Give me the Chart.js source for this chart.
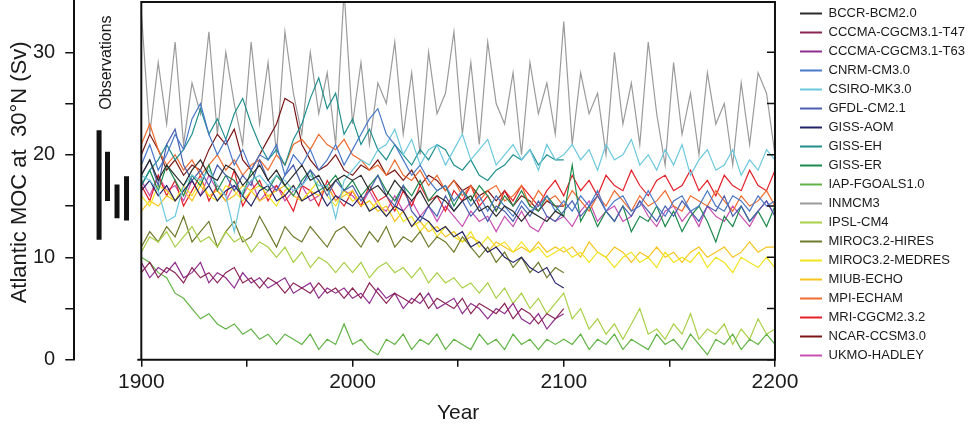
<!DOCTYPE html>
<html>
<head>
<meta charset="utf-8">
<script src="https://cdn.jsdelivr.net/npm/chart.js@4/dist/chart.umd.min.js"></script>
<style>
  html, body { margin: 0; padding: 0; background: #fff; }
</style>
</head>
<body>
<canvas id="mocChart" width="975" height="428"></canvas>
<script>
// years sampled every 4 years
const years = [];
for (let y = 1900; y <= 2200; y += 4) years.push(y);

const xTickYears = [1900, 1950, 2000, 2050, 2100, 2150, 2200];
const yTickValues = [0, 5, 10, 15, 20, 25, 30];

const modelNames = ['BCCR-BCM2.0', 'CCCMA-CGCM3.1-T47', 'CCCMA-CGCM3.1-T63', 'CNRM-CM3.0', 'CSIRO-MK3.0',
  'GFDL-CM2.1', 'GISS-AOM', 'GISS-EH', 'GISS-ER', 'IAP-FGOALS1.0', 'INMCM3', 'IPSL-CM4',
  'MIROC3.2-HIRES', 'MIROC3.2-MEDRES', 'MIUB-ECHO', 'MPI-ECHAM', 'MRI-CGCM2.3.2', 'NCAR-CCSM3.0', 'UKMO-HADLEY'];
const modelColors = ['#2b2b2b', '#8b2455', '#8e2e8e', '#4a78c8', '#6cc8dd',
  '#4a5fae', '#222266', '#1f8f8f', '#1e8a4e', '#62b346', '#9a9a9a', '#a8cf45',
  '#6f7a2c', '#f2e41e', '#f7c31d', '#ef6c2e', '#e5202a', '#7a1616', '#c84fb2'];

// MOC values (Sv), 1900..2100 (short runs) or 1900..2200
const bccr = [18, 19.5, 17.5, 19, 18, 17, 18.5, 19.5, 18, 17.5, 19, 18.5, 17, 18, 19, 17.5, 18.5, 17, 18, 19, 17.5, 18, 16.5, 17.5, 18,
  17.5, 18, 16.5, 17, 16, 17.5, 16.5, 15.5, 16.5, 15, 16, 15.5, 14.5, 15.5, 16, 14.5, 15, 14, 15, 14.5, 13.5, 14.5, 14, 13.5, 14.5, 14];
const cccmaT47 = [8.5, 9.5, 8, 9, 8.5, 7.5, 9, 8, 8.5, 7.5, 8.5, 9, 7.5, 8, 7, 8, 7.5, 6.5, 7.5, 7, 6.5, 7.5, 6.5, 7, 6,
  7, 6, 7.5, 6.5, 5.5, 6.5, 6, 5.5, 6.5, 5, 6, 5.5, 5, 6, 4.5, 5.5, 5, 4.5, 5.5, 4, 5, 4.5, 3.5, 4.5, 4, 5];
const cccmaT63 = [9.5, 8, 9, 8.5, 9.5, 8, 8.5, 9.5, 7.5, 8.5, 8, 7, 8.5, 7.5, 8, 7, 7.5, 8, 6.5, 7, 7.5, 6, 7, 6.5, 7,
  6, 6.5, 5.5, 7, 6, 6.5, 5, 6, 5.5, 6.5, 5, 5.5, 6, 4.5, 5.5, 5, 4, 5, 4.5, 5.5, 4, 3.5, 4.5, 3, 4, 4.5];
const cnrm = [19, 21, 18.5, 20, 22, 20.5, 23.5, 25, 22, 20, 21.5, 19, 20.5, 18.5, 20, 19.5, 21, 18, 20, 19, 20.5, 18.5, 19.5, 21, 19,
  20.5, 22, 23.5, 24.5, 22, 21, 19.5, 18, 19, 17.5, 16.5, 17, 15.5, 16.5, 15, 16, 14.5, 16, 15, 14, 15.5, 14.5, 15, 16, 14.5,
  15.5, 14.5, 16, 15, 16.5, 14.5, 15.5, 16, 14.5, 15, 16.5, 15, 14, 15.5, 16, 14.5, 15, 16.5, 15, 14.5, 16, 15.5, 14.5, 16, 15, 15.5];
const csiro = [18, 17.5, 16.5, 13.5, 14, 17, 18, 17.5, 18.5, 17, 16, 12.5, 16.5, 17.5, 18, 17, 18, 17.5, 16.5, 17, 18, 17, 17, 13.8, 17.5,
  18.5, 19.5, 19, 20.5, 21, 22.5, 20, 21.5, 19, 20.5, 21, 19, 20.5, 22, 19.5, 20.5, 21.5, 19, 20, 21, 19.5, 20.5, 18.5, 21, 19.5,
  20, 21, 19.5, 20.5, 18.5, 21, 19.5, 20, 21.5, 19, 20, 18.5, 20.5, 19, 21, 18, 19.5, 20.5, 18.5, 19, 20.5, 18, 19.5, 18.5, 20.5, 19.5];
const gfdl = [18, 19.5, 17, 21, 22.5, 19, 17.5, 18.5, 17, 19, 18, 16.5, 18, 17, 19.5, 17.5, 16.5, 18, 19, 17, 18.5, 17.5, 16, 17.5, 16.5,
  17, 15.5, 16.5, 18, 16, 15, 17, 14.5, 13.5, 15, 14, 16, 14.5, 15.5, 14, 15, 13.5, 15, 14.5, 13.5, 15, 14, 15.5, 14, 13.5,
  14.5, 15.5, 14, 15, 16, 14.5, 13.5, 15, 14, 15.5, 14.5, 13.5, 15, 14, 15.5, 14.5, 13.5, 15, 14.5, 16, 14, 15, 13.5, 14.5, 15.5, 14];
const gissAom = [16.5, 17.5, 16, 17, 15.5, 16.5, 17.5, 16, 17, 15.5, 16.5, 17, 16, 15, 16.5, 17, 15.5, 16, 17, 15.5, 16, 16.5, 15, 16, 15.5,
  15, 16, 14.5, 15, 14, 15, 14.5, 13, 14, 13.5, 12.5, 13, 12, 12.5, 11, 11.5, 10.5, 11, 10, 9.5, 10, 9, 8.5, 9, 7.5, 7];
const gissEh = [17, 18.5, 19.5, 21, 19.5, 20.5, 22, 24.5, 22, 23.5, 21.5, 24, 25.5, 23, 21, 19.5, 20.5, 19, 21.5, 23, 25.5, 27.5, 24.5, 26, 22,
  23.5, 21, 22.5, 20.5, 19.5, 21, 20, 19, 20.5, 19.5, 21, 20.5, 19, 18.5, 19.5, 18, 17.5, 18.5, 19, 20, 19.5, 20.5, 19, 20, 19.5, 19.5];
const gissEr = [17, 18.5, 16.5, 19, 17.5, 16, 18, 17, 19, 16.5, 18, 17.5, 16, 18.5, 17, 16.5, 18, 17, 16, 17.5, 18.5, 16.5, 17, 18, 16.5,
  17.5, 16, 17, 18, 16.5, 15.5, 17, 16, 17.5, 15.5, 16.5, 17, 15, 16.5, 15.5, 17, 16, 14.5, 16, 15, 16.5, 15, 14.5, 16, 15,
  14, 19, 13.5, 15, 13, 14.5, 13.5, 15, 12.5, 14, 13.5, 15, 13, 14.5, 12.5, 14, 15, 13.5, 11.5, 14, 13, 15, 13.5, 14.5, 13, 15];
const iap = [10, 9.5, 8.5, 8, 6.5, 6, 5, 4, 4.5, 3.5, 3, 3.5, 2.5, 3, 2, 2.5, 1.5, 2.5, 2, 1.5, 2.5, 1, 2, 1.5, 3.5,
  1.5, 2, 1, 0.5, 2, 1.5, 2.5, 1, 2, 1.5, 2.5, 1, 2, 1.5, 1, 2.5, 1.5, 2, 1, 2.5, 1.5, 2, 1, 2, 1.5,
  2, 1.5, 2.5, 1, 2, 1.5, 2.5, 1, 2, 1.5, 1, 2.5, 1.5, 2, 1, 2.5, 1.5, 0.5, 2, 1.5, 2.5, 1, 2, 1.5, 2.5, 1.5];
const inmcm = [34, 22, 29, 23, 31, 21, 27, 24, 32, 22, 30, 25, 21, 31, 23, 29, 20, 32, 26, 22, 30, 24, 28, 21, 36,
  23, 29, 21, 27, 25, 31, 22, 28, 20, 30, 24, 26, 32, 22, 29, 21, 31, 25, 23, 28, 20, 29, 24, 27, 22,
  33, 21, 28, 24, 26, 20, 30, 23, 27, 21, 31, 24, 19, 29, 22, 26, 20, 28, 23, 25, 19, 27, 21, 28, 26, 20];
const ipsl = [10.5, 12, 11.5, 12.5, 11, 12, 13, 11.5, 12, 11, 12.5, 11.5, 12, 10.5, 11.5, 11, 10, 11, 9.5, 10.5, 9, 10, 9.5, 8.5, 9.5,
  8.5, 9.5, 8, 9, 9.5, 8.5, 9, 8, 9, 7.5, 8.5, 7.5, 8, 7, 7.5, 6.5, 7.5, 6, 7, 5.5, 6.5, 5, 6, 4.5, 5.5,
  6.5, 4, 5, 3, 4, 2.5, 3.5, 2, 3.5, 5, 2.5, 3, 2, 3.5, 2.5, 4.5, 2, 3, 2.5, 3.5, 1.5, 3, 2, 4, 2.5, 3];
const mirocHires = [11, 12.5, 11.5, 13, 12, 14, 11.5, 12.5, 13.5, 11, 12.5, 13.5, 11.5, 12, 14, 12.5, 11, 13, 12, 11.5, 13, 12, 11, 12.5, 13,
  12, 11, 12.5, 11.5, 13, 11, 12, 11.5, 12.5, 11, 12, 11.5, 10.5, 12, 11, 10, 11, 9.5, 10.5, 9, 10, 8.5, 9.5, 8, 9, 8.5];
const mirocMedres = [16, 15, 17, 16.5, 15.5, 17, 16, 17.5, 16, 15.5, 17, 16.5, 15.5, 16.5, 17, 16, 15, 16.5, 17, 15.5, 16.5, 17.5, 16, 15, 16.5,
  15.5, 16, 14.5, 15.5, 14, 15, 13.5, 14, 12.5, 13.5, 12, 13, 12, 11.5, 12.5, 11, 12, 11, 11.5, 10.5, 11.5, 10.5, 11, 10, 10.5,
  11, 10, 10.5, 9.5, 10.5, 10, 9, 10, 10.5, 9.5, 10, 9, 10.5, 9.5, 10, 9.5, 10.5, 9, 10, 9.5, 8.5, 10, 9.5, 9, 10, 9];
const miub = [14.5, 15.5, 15, 16, 15.5, 16.5, 15.5, 17, 16, 16.5, 15.5, 16, 17, 16.5, 15.5, 16, 16.5, 17, 16, 15.5, 16.5, 16, 17, 15.5, 16,
  16.5, 15, 15.5, 14.5, 15, 13.5, 14.5, 13, 13.5, 12.5, 13, 12, 12.5, 11.5, 12, 11.5, 10.5, 11.5, 11, 10.5, 11, 10.5, 11.5, 10.5, 11,
  10.5, 11, 10, 11.5, 10.5, 10, 11, 10.5, 9.5, 10.5, 10, 11, 10, 10.5, 9.5, 10.5, 11, 10, 10.5, 11, 10, 10.5, 11.5, 10.5, 11, 11];
const mpi = [21, 23, 20.5, 19, 20, 18.5, 19.5, 18, 19, 20, 18.5, 19.5, 18, 19, 19.5, 18.5, 20, 19, 21, 21.5, 20.5, 22, 21, 20.5, 21.5,
  20, 19.5, 18.5, 19, 18, 19.5, 18, 17.5, 18.5, 17, 18, 16.5, 17.5, 16, 17, 15.5, 16.5, 17, 15.5, 16, 17, 15, 16.5, 15.5, 16,
  15, 16.5, 15.5, 14.5, 16, 15, 16.5, 15.5, 14.5, 16, 15, 15.5, 16.5, 15, 14.5, 16, 15.5, 15, 16.5, 15.5, 14.5, 16, 15, 15.5, 16.5, 15];
const mri = [17, 15.5, 18, 16, 17.5, 15, 16.5, 18, 15.5, 17, 16, 18.5, 15, 16.5, 17.5, 15.5, 17, 16, 14.5, 17, 16.5, 15, 17.5, 16, 15,
  16.5, 15, 17, 15.5, 16, 14.5, 16.5, 15, 17, 15.5, 16, 14.5, 16.5, 15.5, 17, 15, 16, 14.5, 16.5, 15.5, 17, 16, 15, 16.5, 17.5,
  16, 18, 16.5, 17.5, 16, 18, 17, 16.5, 18.5, 17, 16, 17.5, 18, 16.5, 17, 18.5, 16.5, 17.5, 16, 18, 17, 16.5, 18.5, 17, 16.5, 18.5];
const ncar = [20, 22, 20.5, 18.5, 19.5, 18, 19, 18.5, 20.5, 22, 21, 22.5, 19.5, 18.5, 20, 21.5, 23, 25.5, 25, 21, 19.5, 18.5, 19, 20, 18.5,
  18, 19, 18.5, 19.5, 18, 18.5, 17.5, 18.5, 17, 18, 17.5, 16.5, 17.5, 16.5, 17, 16, 16.5, 15.5, 16.5, 15, 16, 15.5, 14.5, 15.5, 15, 15];
const ukmo = [17.5, 16, 18, 16.5, 17, 15.5, 17.5, 16, 18, 16.5, 15.5, 17, 16, 17.5, 15.5, 16.5, 17, 15.5, 16.5, 17, 15.5, 16, 17, 15.5, 16.5,
  16, 15, 16.5, 15, 14.5, 16, 14.5, 15.5, 14, 15, 13.5, 15, 14, 13, 14.5, 13.5, 14, 12.5, 14, 13, 14.5, 13, 12.5, 14, 13.5,
  14, 13, 14.5, 15.5, 13.5, 14.5, 15, 13.5, 14, 15.5, 14, 13, 14.5, 15, 13.5, 14.5, 13, 15, 14, 13.5, 15, 14, 13, 14.5, 15.5, 14];

const modelValues = [bccr, cccmaT47, cccmaT63, cnrm, csiro, gfdl, gissAom, gissEh, gissEr, iap, inmcm, ipsl,
  mirocHires, mirocMedres, miub, mpi, mri, ncar, ukmo];

// observational ranges, drawn left of the 1900 axis
const obsYear = [1880, 1884, 1888.5, 1893];
const obsLow = [11.7, 15.5, 13.8, 13.6];
const obsHigh = [22.4, 20.3, 17.1, 17.9];

const fontFamily = "'Liberation Sans', Arial, Helvetica, sans-serif";
Chart.defaults.font.family = fontFamily;
Chart.defaults.color = '#1a1a1a';

const datasets = modelNames.map((name, i) => ({
  label: name,
  data: modelValues[i].map((v, k) => ({ x: years[k], y: v })),
  borderColor: modelColors[i],
  backgroundColor: modelColors[i],
  borderWidth: 1.2,
  pointRadius: 0,
  pointBorderWidth: 2,
  tension: 0,
  order: name === 'INMCM3' ? 2 : 1
}));

obsYear.forEach((yr, i) => {
  datasets.push({
    label: 'obs',
    data: [{ x: yr, y: obsLow[i] }, { x: yr, y: obsHigh[i] }],
    borderColor: '#111',
    borderWidth: 5,
    borderCapStyle: 'butt',
    pointRadius: 0,
    order: 0
  });
});

const framePlugin = {
  id: 'frame',
  afterDraw(chart) {
    const { ctx, chartArea, scales } = chart;
    const x = scales.x, y = scales.y;
    const x0 = x.getPixelForValue(1900);
    const x1 = x.getPixelForValue(2200);
    ctx.save();
    ctx.strokeStyle = '#111';
    ctx.lineWidth = 2;
    ctx.beginPath();
    ctx.moveTo(x0, chartArea.top + 1);
    ctx.lineTo(x1, chartArea.top + 1);
    ctx.lineTo(x1, chartArea.bottom);
    ctx.lineTo(x0 - 4, chartArea.bottom);
    ctx.moveTo(x0, chartArea.top);
    ctx.lineTo(x0, chartArea.bottom);
    ctx.stroke();
    // inward ticks on right border
    ctx.lineWidth = 1.5;
    ctx.beginPath();
    yTickValues.forEach(v => {
      const py = y.getPixelForValue(v);
      ctx.moveTo(x1, py);
      ctx.lineTo(x1 - 8, py);
    });
    ctx.stroke();

    ctx.fillStyle = '#1a1a1a';
    ctx.textAlign = 'center';
    ctx.textBaseline = 'middle';

    // x-axis title, centred under the plot box
    ctx.font = '21px ' + fontFamily;
    ctx.fillText('Year', (x0 + x1) / 2, chartArea.bottom + 53);

    // y-axis title
    ctx.save();
    ctx.font = '22px ' + fontFamily;
    ctx.translate(20, (chartArea.top + chartArea.bottom) / 2 - 8);
    ctx.rotate(-Math.PI / 2);
    ctx.fillText('Atlantic MOC at  30°N (Sv)', 0, 0);
    ctx.restore();

    // Observations label
    ctx.font = '16px ' + fontFamily;
    ctx.translate(x.getPixelForValue(1883.4), y.getPixelForValue(24.4));
    ctx.rotate(-Math.PI / 2);
    ctx.textAlign = 'left';
    ctx.fillText('Observations', 0, 0);
    ctx.restore();
  }
};

new Chart(document.getElementById('mocChart'), {
  type: 'line',
  data: { datasets },
  plugins: [framePlugin],
  options: {
    responsive: false,
    animation: false,
    layout: { padding: { left: 23, right: 0, top: 1, bottom: 30 } },
    plugins: {
      tooltip: { enabled: false },
      legend: {
        position: 'right',
        align: 'start',
        labels: {
          usePointStyle: true,
          pointStyle: 'line',
          pointStyleWidth: 22,
          padding: 6,
          color: '#1a1a1a',
          font: { size: 13 },
          filter: item => item.datasetIndex < modelNames.length,
          sort: (a, b) => a.datasetIndex - b.datasetIndex
        }
      }
    },
    scales: {
      x: {
        type: 'linear',
        min: 1868.25,
        max: 2209,
        afterBuildTicks: scale => { scale.ticks = xTickYears.map(v => ({ value: v })); },
        ticks: {
          autoSkip: false,
          maxRotation: 0,
          padding: 3,
          font: { size: 21 },
          callback: v => (v % 100 === 0 ? String(v) : '')
        },
        grid: { drawOnChartArea: false, tickLength: 7, color: '#111', lineWidth: 1.5 },
        border: { display: false }
      },
      y: {
        min: 0,
        max: 35,
        afterBuildTicks: scale => { scale.ticks = yTickValues.map(v => ({ value: v })); },
        afterFit: scale => { scale.paddingTop = 0; },
        ticks: {
          padding: 10,
          font: { size: 20 },
          callback: v => (v % 10 === 0 ? String(v) : '')
        },
        grid: { drawOnChartArea: false, tickLength: 9, color: '#111', lineWidth: 1.5 },
        border: { display: true, color: '#111', width: 2 }
      }
    }
  }
});
</script>
</body>
</html>
